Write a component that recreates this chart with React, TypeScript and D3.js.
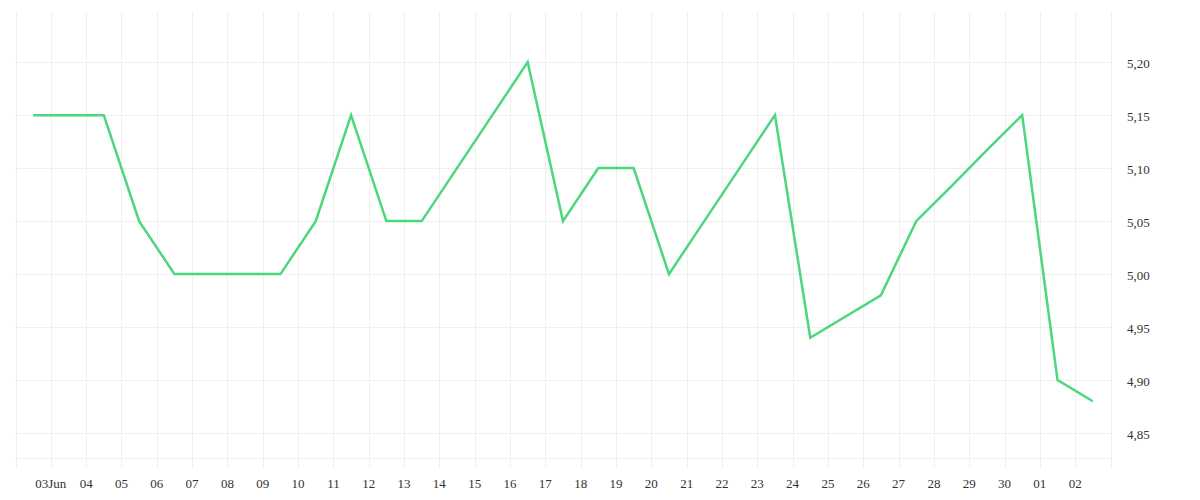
import React, { useEffect, useRef } from 'react'
import * as d3 from 'd3'

// daily values (plotted at noon of each day)
const dates = [
    '2023-06-02', '2023-06-03', '2023-06-04', '2023-06-05', '2023-06-06', '2023-06-07',
    '2023-06-08', '2023-06-09', '2023-06-10', '2023-06-11', '2023-06-12', '2023-06-13',
    '2023-06-14', '2023-06-15', '2023-06-16', '2023-06-17', '2023-06-18', '2023-06-19',
    '2023-06-20', '2023-06-21', '2023-06-22', '2023-06-23', '2023-06-24', '2023-06-25',
    '2023-06-26', '2023-06-27', '2023-06-28', '2023-06-29', '2023-06-30', '2023-07-01',
    '2023-07-02',
]
const values = [
    5.15, 5.15, 5.15, 5.05, 5.0, 5.0,
    5.0, 5.0, 5.05, 5.15, 5.05, 5.05,
    5.1, 5.15, 5.2, 5.05, 5.1, 5.1,
    5.0, 5.05, 5.1, 5.15, 4.94, 4.96,
    4.98, 5.05, 5.083, 5.117, 5.15, 4.9,
    4.88,
]
const yTicks = [4.85, 4.9, 4.95, 5.0, 5.05, 5.1, 5.15, 5.2]

const width = 1200
const height = 500

const App = () => {
    const ref = useRef<SVGSVGElement>(null)

    useEffect(() => {
        const svg = d3.select(ref.current)
        svg.selectAll('*').remove()

        const left = 15.5, right = 1110.5, top = 12, bottom = 458

        const x = d3.scaleUtc()
            .domain([new Date(Date.UTC(2023, 5, 2)), new Date(Date.UTC(2023, 6, 3))])
            .range([left, right])
        const y = d3.scaleLinear()
            .domain([4.8265, 5.2473])
            .range([bottom, top])

        const parse = d3.utcParse('%Y-%m-%d')
        const data = dates.map((d, i) => ({
            date: d3.utcHour.offset(parse(d) as Date, 12),
            value: values[i],
        }))

        const gridColor = '#efefef'
        const days = d3.utcDay.range(x.domain()[0], d3.utcDay.offset(x.domain()[1], 1))

        // vertical grid (plus little tick stubs below plot)
        svg.append('g')
            .selectAll('line')
            .data(days)
            .join('line')
            .attr('x1', d => Math.round(x(d)) + 0.5)
            .attr('x2', d => Math.round(x(d)) + 0.5)
            .attr('y1', top)
            .attr('y2', 468)
            .attr('stroke', gridColor)
            .attr('stroke-width', 1)

        // horizontal grid
        svg.append('g')
            .selectAll('line')
            .data(yTicks)
            .join('line')
            .attr('x1', left)
            .attr('x2', right)
            .attr('y1', d => Math.round(y(d)) + 0.5)
            .attr('y2', d => Math.round(y(d)) + 0.5)
            .attr('stroke', gridColor)
            .attr('stroke-width', 1)

        svg.append('line')
            .attr('x1', left)
            .attr('x2', right)
            .attr('y1', bottom + 0.5)
            .attr('y2', bottom + 0.5)
            .attr('stroke', gridColor)

        // y labels
        const fmt = d3.format('.2f')
        svg.append('g')
            .selectAll('text')
            .data(yTicks)
            .join('text')
            .attr('x', 1127)
            .attr('y', d => y(d) + 1.5)
            .attr('dy', '0.35em')
            .attr('fill', '#333')
            .style('font-size', '13px')
            .text(d => fmt(d).replace('.', ','))

        // x labels
        const labelDays = days.slice(1, -1)
        svg.append('g')
            .selectAll('text')
            .data(labelDays)
            .join('text')
            .attr('x', d => x(d))
            .attr('y', 483)
            .attr('dy', '0.35em')
            .attr('text-anchor', 'middle')
            .attr('fill', '#333')
            .style('font-size', '13px')
            .text((d, i) => i === 0 ? d3.utcFormat('%d%b')(d) : d3.utcFormat('%d')(d))

        const line = d3.line<{ date: Date, value: number }>()
            .x(d => x(d.date))
            .y(d => y(d.value))

        svg.append('path')
            .datum(data)
            .attr('d', line)
            .attr('fill', 'none')
            .attr('stroke', '#4cd67e')
            .attr('stroke-width', 2.5)
            .attr('stroke-linejoin', 'miter')
    }, [])

    return (
        <div style={{ position: 'absolute', left: 0, top: 0 }}>
            <svg ref={ref} width={width} height={height} style={{ display: 'block' }}></svg>
        </div>
    )
}

export default App
